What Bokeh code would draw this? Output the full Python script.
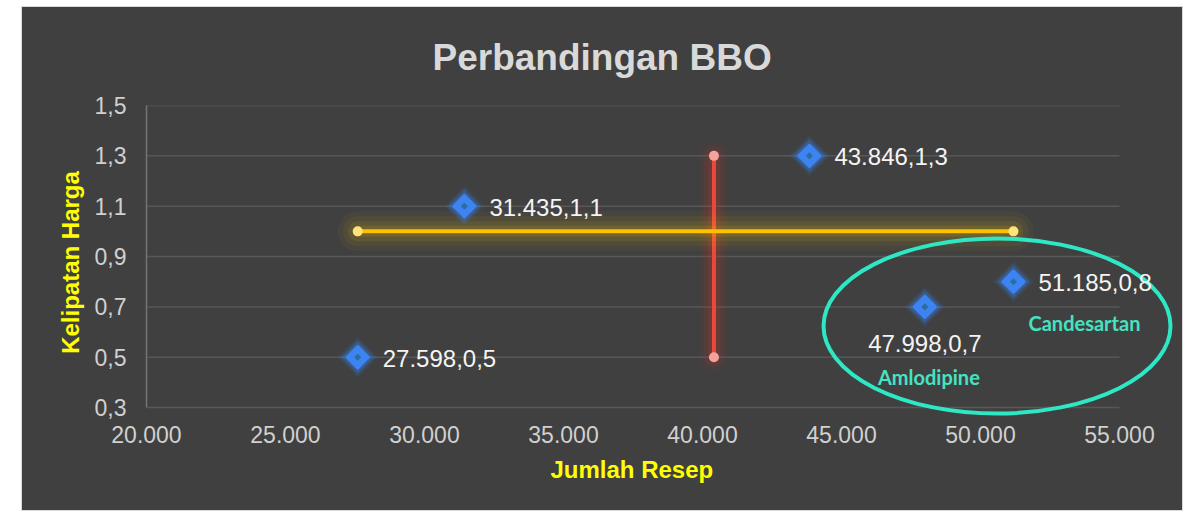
import numpy as np
from bokeh.plotting import figure
from bokeh.models import ColumnDataSource, FixedTicker, Range1d, Spacer, Title
from bokeh.layouts import row, column
from bokeh.core.properties import value
from bokeh.embed import file_html
from bokeh.resources import INLINE

# ---------------- data ----------------
jumlah_resep = [27598, 31435, 43846, 47998, 51185]
kelipatan_harga = [0.5, 1.1, 1.3, 0.7, 0.8]

x_ticks = [20000, 25000, 30000, 35000, 40000, 45000, 50000, 55000]
x_tick_labels = ["20.000", "25.000", "30.000", "35.000", "40.000", "45.000", "50.000", "55.000"]
y_ticks = [0.3, 0.5, 0.7, 0.9, 1.1, 1.3, 1.5]
y_tick_labels = ["0,3", "0,5", "0,7", "0,9", "1,1", "1,3", "1,5"]

h_line_x = [27598, 51185]
h_line_y = [1.0, 1.0]
v_line_x = [40412, 40412]
v_line_y = [0.5, 1.3]

highlight_names = ["Amlodipine", "Candesartan"]
highlight_x = [47998, 51185]
highlight_y = [0.7, 0.8]

ellipse_x = [50594]
ellipse_y = [0.624]
ellipse_w = [12482]
ellipse_h = [0.696]

title_text = "Perbandingan BBO"
x_title = "Jumlah Resep"
y_title = "Kelipatan Harga"


def fmt_label(x, y):
    return f"{x:,}".replace(",", ".") + "," + f"{y:.1f}".replace(".", ",")


point_labels = [fmt_label(x, y) for x, y in zip(jumlah_resep, kelipatan_harga)]

# ---------------- styles ----------------
BG = "#404040"
FONT = value("Liberation Sans")

p = figure(width=1160, height=503, output_backend="svg", toolbar_location=None,
           x_range=Range1d(20000, 57158), y_range=Range1d(0.2526, 1.5),
           min_border_left=124, min_border_right=3, min_border_top=96, min_border_bottom=91,
           background_fill_color=None, border_fill_color=BG, title=title_text,
           outline_line_color=None,
           styles={"background-color": BG, "outline": "1px solid #d9d9d9"})
p.grid.visible = False

# title
p.title.align = "left"
p.title.offset = 286
p.title.standoff = 55
p.title.text_font = "Liberation Sans"
p.title.text_font_style = "bold"
p.title.text_font_size = "37px"
p.title.text_color = "#d9d9d9"

# axes
p.xaxis.ticker = FixedTicker(ticks=x_ticks)
p.xaxis.major_label_overrides = {t: l for t, l in zip(x_ticks, x_tick_labels)}
p.yaxis.ticker = FixedTicker(ticks=y_ticks)
p.yaxis.major_label_overrides = {t: l for t, l in zip(y_ticks, y_tick_labels)}
for ax in (p.xaxis[0], p.yaxis[0]):
    ax.major_tick_line_color = None
    ax.minor_tick_line_color = None
    ax.major_tick_out = 0
    ax.major_tick_in = 0
    ax.major_label_text_font = "Liberation Sans"
    ax.major_label_text_font_size = "23px"
    ax.major_label_text_color = "#d0d0d0"
    ax.axis_label_text_font = "Liberation Sans"
    ax.axis_label_text_font_style = "bold"
    ax.axis_label_text_font_size = "24px"
    ax.axis_label_text_color = "#FFFF00"
p.yaxis.axis_label = y_title
p.xaxis.axis_line_color = None
p.xaxis.major_label_standoff = 6
p.yaxis.axis_line_color = "#747474"
p.yaxis.axis_line_width = 1.5
p.yaxis.bounds = (y_ticks[0], y_ticks[-1])
p.yaxis.major_label_standoff = 20
p.yaxis.axis_label_standoff = 8

# x axis title, aligned to the tick span
p.add_layout(Title(text=x_title, align="left", offset=404, standoff=17,
                   text_font="Liberation Sans", text_font_style="bold",
                   text_font_size="24px", text_color="#FFFF00"), "below")

# horizontal gridlines limited to the tick span
p.multi_line(xs=[[x_ticks[0], x_ticks[-1]] for _ in y_ticks], ys=[[t, t] for t in y_ticks],
             line_color="#575757", line_width=1.5)

# red vertical reference line with glow
for w, a in [(28, 0.04), (20, 0.07), (12, 0.11)]:
    p.line(v_line_x, v_line_y, line_color="#ff3020", line_width=w, line_alpha=a, line_cap="round")
p.line(v_line_x, v_line_y, line_color="#E9493A", line_width=4)
p.scatter(v_line_x, v_line_y, size=10, fill_color="#F4A29A", line_color=None)

# yellow horizontal reference line with glow
for w, a in [(40, 0.04), (30, 0.06), (20, 0.08), (11, 0.11)]:
    p.line(h_line_x, h_line_y, line_color="#ffd000", line_width=w, line_alpha=a, line_cap="round")
p.line(h_line_x, h_line_y, line_color="#FFC000", line_width=4)
p.scatter(h_line_x, h_line_y, size=10, fill_color="#FFE27A", line_color=None)

# points with glow
src = ColumnDataSource(dict(x=jumlah_resep, y=kelipatan_harga, label=point_labels))
for s, a in [(27, 0.06), (23, 0.12), (20, 0.2)]:
    p.scatter("x", "y", source=src, marker="square", angle=np.pi / 4, size=s,
              fill_color="#3B82F0", fill_alpha=a, line_color="#3B82F0", line_alpha=a,
              line_width=3, line_join="round")
p.scatter("x", "y", source=src, marker="square", angle=np.pi / 4, size=15,
          fill_color="#3D84F2", line_color="#3D84F2", line_width=3, line_join="round")
p.scatter("x", "y", source=src, marker="square", angle=np.pi / 4, size=5,
          fill_color="#2B6E9A", line_color=None)

# ellipse highlight
p.ellipse(x=ellipse_x, y=ellipse_y, width=ellipse_w, height=ellipse_h,
          fill_alpha=0, line_color="#2EE8C5", line_width=4)

# data labels
below = [i == 3 for i in range(len(jumlah_resep))]
right_src = ColumnDataSource(dict(
    x=[x for x, b in zip(jumlah_resep, below) if not b],
    y=[y for y, b in zip(kelipatan_harga, below) if not b],
    t=[t for t, b in zip(point_labels, below) if not b]))
below_src = ColumnDataSource(dict(
    x=[x for x, b in zip(jumlah_resep, below) if b],
    y=[y for y, b in zip(kelipatan_harga, below) if b],
    t=[t for t, b in zip(point_labels, below) if b]))
p.text("x", "y", text="t", source=right_src, x_offset=25, y_offset=1,
       text_align="left", text_baseline="middle", text_font=FONT,
       text_font_size="24px", text_color="#f4f4f4")
p.text("x", "y", text="t", source=below_src, x_offset=0, y_offset=37,
       text_align="center", text_baseline="middle", text_font=FONT,
       text_font_size="24px", text_color="#f4f4f4")

# highlighted drug names
name_src = ColumnDataSource(dict(x=highlight_x, y=highlight_y, t=highlight_names,
                                 xo=[4, 71], yo=[70, 41]))
p.text("x", "y", text="t", source=name_src, x_offset="xo", y_offset="yo",
       text_align="center", text_baseline="alphabetic", text_font=value("Lato"),
       text_font_style="bold", text_font_size="20px", text_color="#45E3C1")

layout = column(Spacer(height=7), row(Spacer(width=22), p))
open("out.html", "w").write(file_html(layout, INLINE))
